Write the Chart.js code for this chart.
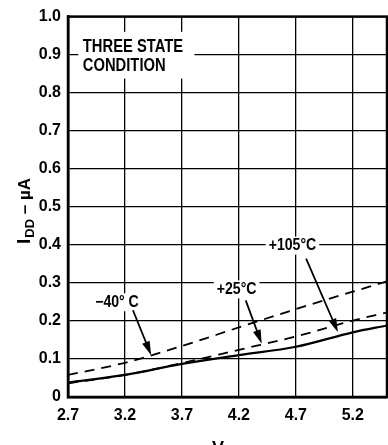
<!DOCTYPE html>
<html>
<head>
<meta charset="utf-8">
<script src="https://cdn.jsdelivr.net/npm/chart.js@4/dist/chart.umd.min.js"></script>
<style>
  html, body { margin: 0; padding: 0; background: #fff; }
</style>
</head>
<body>
<canvas id="myChart" width="388" height="445"></canvas>
<script>
// supply voltage, V
const vdd = [2.7, 3.2, 3.7, 4.2, 4.7, 5.2, 5.5];
// supply current, uA
const iddMinus40 = [0.058, 0.090, 0.134, 0.183, 0.231, 0.277, 0.304];
const idd25 = [0.036, 0.058, 0.089, 0.124, 0.159, 0.201, 0.222];
const idd105 = [0.038, 0.058, 0.087, 0.110, 0.132, 0.170, 0.188];

const xTicks = [2.7, 3.2, 3.7, 4.2, 4.7, 5.2];
const yTicks = [0, 0.1, 0.2, 0.3, 0.4, 0.5, 0.6, 0.7, 0.8, 0.9, 1.0];
const yTickLabels = ['0', '0.1', '0.2', '0.3', '0.4', '0.5', '0.6', '0.7', '0.8', '0.9', '1.0'];

const tempLabels = ['\u221240\u00b0 C', '+25\u00b0C', '+105\u00b0C'];
const titleLines = ['THREE STATE', 'CONDITION'];

// callouts: label centre, arrow tail, arrow tip (in volts / uA)
const callouts = [
    {label: tempLabels[0], at: [3.13, 0.249], from: [3.27, 0.228], to: [3.43, 0.110]},
    {label: tempLabels[1], at: [4.18, 0.283], from: [4.26, 0.254], to: [4.40, 0.140]},
    {label: tempLabels[2], at: [4.67, 0.398], from: [4.79, 0.364], to: [5.07, 0.170]}
];

const ctx = document.getElementById('myChart');

function condensedText(c, text, x, y, squeeze, align) {
    c.save();
    c.translate(x, y);
    c.scale(squeeze, 1);
    c.textAlign = align;
    c.fillText(text, 0, 0);
    c.restore();
}

const annotations = {
    id: 'annotations',
    afterDatasetsDraw(chart) {
        const c = chart.ctx;
        const xs = chart.scales.x, ys = chart.scales.y;
        const area = chart.chartArea;

        // title box
        c.save();
        c.fillStyle = '#fff';
        const bx1 = xs.getPixelForValue(2.79), bx2 = xs.getPixelForValue(3.81);
        const by1 = ys.getPixelForValue(0.96), by2 = ys.getPixelForValue(0.837);
        c.fillRect(bx1, by1, bx2 - bx1, by2 - by1);
        c.fillStyle = '#000';
        c.font = 'bold 18px "Liberation Sans", Arial, sans-serif';
        c.textBaseline = 'middle';
        condensedText(c, titleLines[0], xs.getPixelForValue(2.83), ys.getPixelForValue(0.921), 0.82, 'left');
        condensedText(c, titleLines[1], xs.getPixelForValue(2.83), ys.getPixelForValue(0.869), 0.82, 'left');

        // temperature callouts
        c.font = 'bold 16px "Liberation Sans", Arial, sans-serif';
        callouts.forEach(o => {
            const lx = xs.getPixelForValue(o.at[0]), ly = ys.getPixelForValue(o.at[1]);
            const w = c.measureText(o.label).width * 0.88;
            c.fillStyle = '#fff';
            c.fillRect(lx - w / 2 - 3, ly - 9, w + 6, 18);
            c.fillStyle = '#000';
            condensedText(c, o.label, lx, ly, 0.88, 'center');

            const x1 = xs.getPixelForValue(o.from[0]), y1 = ys.getPixelForValue(o.from[1]);
            const x2 = xs.getPixelForValue(o.to[0]), y2 = ys.getPixelForValue(o.to[1]);
            const ang = Math.atan2(y2 - y1, x2 - x1);
            c.strokeStyle = '#000';
            c.lineWidth = 1.8;
            c.beginPath();
            c.moveTo(x1, y1);
            c.lineTo(x2 - 8 * Math.cos(ang), y2 - 8 * Math.sin(ang));
            c.stroke();
            c.beginPath();
            c.moveTo(x2, y2);
            c.lineTo(x2 - 14 * Math.cos(ang) + 4 * Math.sin(ang), y2 - 14 * Math.sin(ang) - 4 * Math.cos(ang));
            c.lineTo(x2 - 14 * Math.cos(ang) - 4 * Math.sin(ang), y2 - 14 * Math.sin(ang) + 4 * Math.cos(ang));
            c.closePath();
            c.fill();
        });

        // frame
        c.lineWidth = 2.5;
        c.strokeRect(area.left, area.top, area.right - area.left, area.bottom - area.top);

        // axis titles with subscripts
        c.textAlign = 'left';
        c.textBaseline = 'alphabetic';
        c.save();
        c.translate(30, 244);
        c.rotate(-Math.PI / 2);
        c.font = 'bold 19px "Liberation Sans", Arial, sans-serif';
        c.fillText('I', 0, 0);
        let off = c.measureText('I').width + 1;
        c.font = 'bold 13px "Liberation Sans", Arial, sans-serif';
        c.fillText('DD', off, 4);
        off += c.measureText('DD').width;
        c.font = 'bold 17px "Liberation Sans", Arial, sans-serif';
        c.fillText(' \u2013 \u00b5A', off, 0);
        c.restore();

        c.font = 'bold 18px "Liberation Sans", Arial, sans-serif';
        c.fillText('V', 212, 454);
        off = c.measureText('V').width;
        c.font = 'bold 13px "Liberation Sans", Arial, sans-serif';
        c.fillText('DD', 212 + off, 458);
        c.restore();
    }
};

window.myChart = new Chart(ctx, {
    type: 'line',
    data: {
        labels: vdd,
        datasets: [
            {
                label: tempLabels[0],
                data: vdd.map((x, i) => ({x: x, y: iddMinus40[i]})),
                borderColor: '#000',
                borderWidth: 1.8,
                borderDash: [10, 7],
                cubicInterpolationMode: 'monotone',
                pointRadius: 0
            },
            {
                label: tempLabels[1],
                data: vdd.map((x, i) => ({x: x, y: idd25[i]})),
                borderColor: '#000',
                borderWidth: 1.8,
                borderDash: [10, 7],
                cubicInterpolationMode: 'monotone',
                pointRadius: 0
            },
            {
                label: tempLabels[2],
                data: vdd.map((x, i) => ({x: x, y: idd105[i]})),
                borderColor: '#000',
                borderWidth: 2.2,
                cubicInterpolationMode: 'monotone',
                pointRadius: 0
            }
        ]
    },
    options: {
        responsive: false,
        animation: false,
        layout: {padding: {top: 15, right: 1, left: 0, bottom: 0}},
        plugins: {
            legend: {display: false},
            tooltip: {enabled: false}
        },
        scales: {
            x: {
                type: 'linear',
                min: 2.7,
                max: 5.5,
                afterBuildTicks: scale => { scale.ticks = xTicks.map(v => ({value: v})); },
                afterFit: scale => { scale.height = 48; },
                grid: {color: '#000', lineWidth: 1.3, drawTicks: false},
                border: {color: '#000', width: 2.5},
                ticks: {
                    color: '#000',
                    padding: 9,
                    maxRotation: 0,
                    font: {family: '"Liberation Sans", Arial, sans-serif', size: 16, weight: 'bold'},
                    callback: v => String(v)
                }
            },
            y: {
                min: 0,
                max: 1,
                afterBuildTicks: scale => { scale.ticks = yTicks.map(v => ({value: v})); },
                afterFit: scale => { scale.width = 68; },
                grid: {color: '#000', lineWidth: 1.3, drawTicks: false},
                border: {color: '#000', width: 2.5},
                ticks: {
                    color: '#000',
                    padding: 7,
                    font: {family: '"Liberation Sans", Arial, sans-serif', size: 16, weight: 'bold'},
                    callback: (v, i) => yTickLabels[i]
                }
            }
        }
    },
    plugins: [annotations]
});
</script>
</body>
</html>
